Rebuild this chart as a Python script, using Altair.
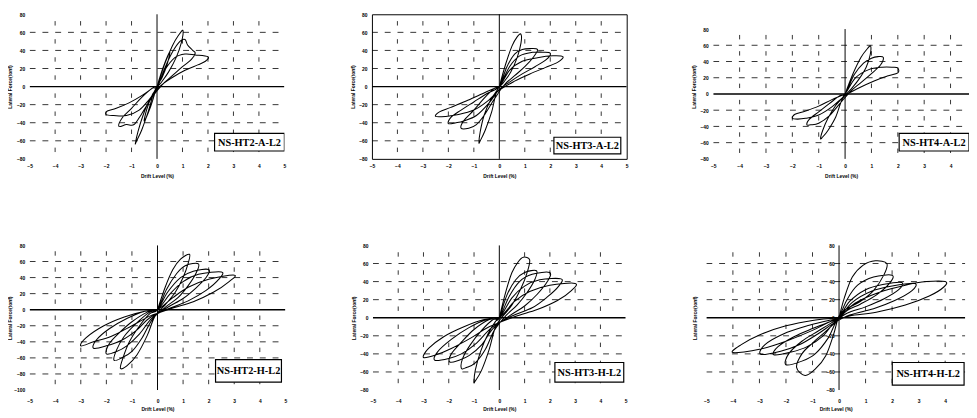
import altair as alt
import pandas as pd

# ---------------- tick values / labels ----------------
X_TICKS = [-5, -4, -3, -2, -1, 0, 1, 2, 3, 4, 5]
X_TICKS_CUT = [-5, -4, -3, -2, -1, 0, 1, 2, 3, 4]
Y_TICKS = [80, 60, 40, 20, 0, -20, -40, -60, -80]
Y_TICKS_LONG = [80, 60, 40, 20, 0, -20, -40, -60, -80, -100]
H_GRID = [60, 40, 20, -20, -40, -60]
H_GRID_LONG = [60, 40, 20, -20, -40, -60, -80]
V_GRID = [-4, -3, -2, -1, 1, 2, 3, 4]

LABELS = ["NS-HT2-A-L2", "NS-HT3-A-L2", "NS-HT4-A-L2",
          "NS-HT2-H-L2", "NS-HT3-H-L2", "NS-HT4-H-L2"]

# ---------------- hysteresis records (drift %, force tonf) ----------------
HT2_A = [(0, 0), (0.25, 22), (0.5, 38), (0.4, 25), (0.2, 10), (0, 0), (-0.25, -22), (-0.5, -38), (-0.4, -25), (-0.2, -10), (0, 0),
         (0.3, 25), (0.6, 45), (0.85, 57), (1.02, 62), (0.95, 48), (0.75, 32), (0.45, 16), (0.15, 4), (-0.1, -5),
         (-0.35, -28), (-0.6, -48), (-0.8, -60), (-0.85, -63), (-0.75, -50), (-0.55, -32), (-0.3, -15), (0, -2),
         (0.3, 20), (0.6, 38), (0.9, 50), (1.1, 52), (1.2, 46), (1.4, 40), (1.5, 37), (1.35, 30), (1.0, 22), (0.6, 12), (0.2, 2),
         (-0.2, -12), (-0.6, -30), (-0.9, -42), (-1.2, -42), (-1.5, -44), (-1.35, -34), (-1.0, -24), (-0.6, -12), (-0.2, -2), (0, 0),
         (0.3, 18), (0.7, 32), (1.1, 36), (1.5, 35), (2.0, 33), (1.9, 28), (1.6, 24), (1.1, 18), (0.6, 10), (0.1, 0),
         (-0.3, -14), (-0.7, -26), (-1.2, -32), (-1.7, -32), (-2.0, -31), (-1.95, -27), (-1.6, -24), (-1.1, -18), (-0.6, -10), (-0.1, 0)]

HT3_A = [(0, 0), (0.25, 25), (0.5, 45), (0.7, 55), (0.85, 58), (0.85, 48), (0.7, 32), (0.45, 16), (0.15, 4), (-0.1, -5),
         (-0.3, -28), (-0.55, -48), (-0.75, -60), (-0.8, -62), (-0.75, -50), (-0.6, -32), (-0.35, -15), (0, 0),
         (0.3, 22), (0.6, 36), (0.9, 41), (1.2, 42), (1.5, 41), (1.35, 33), (1.0, 22), (0.6, 12), (0.2, 2),
         (-0.2, -14), (-0.6, -32), (-0.9, -42), (-1.2, -46), (-1.5, -46), (-1.4, -38), (-1.0, -26), (-0.6, -13), (-0.2, -2), (0, 0),
         (0.4, 22), (0.8, 34), (1.3, 38), (1.7, 38), (2.0, 37), (1.85, 30), (1.4, 22), (0.9, 14), (0.4, 5), (0, -3),
         (-0.4, -18), (-0.9, -32), (-1.4, -38), (-1.7, -40), (-2.0, -41), (-1.9, -34), (-1.5, -26), (-1.0, -17), (-0.5, -8), (0, 0),
         (0.4, 18), (0.9, 28), (1.5, 32), (2.1, 34), (2.5, 33), (2.3, 27), (1.8, 21), (1.2, 14), (0.6, 6), (0, -4),
         (-0.5, -17), (-1.0, -26), (-1.6, -31), (-2.1, -33), (-2.5, -33), (-2.35, -28), (-1.9, -23), (-1.3, -16), (-0.6, -7), (0, 0)]

HT4_A = [(0, 0), (0.3, 25), (0.6, 45), (0.85, 56), (0.97, 59), (0.95, 48), (0.8, 33), (0.5, 17), (0.2, 5), (-0.1, -6),
         (-0.35, -28), (-0.65, -45), (-0.85, -53), (-0.93, -55), (-0.85, -45), (-0.65, -30), (-0.35, -14), (0, 0),
         (0.35, 24), (0.7, 38), (1.0, 44), (1.25, 46), (1.45, 45), (1.35, 36), (1.0, 25), (0.6, 14), (0.2, 3),
         (-0.2, -12), (-0.6, -27), (-1.0, -36), (-1.3, -38), (-1.45, -38), (-1.35, -31), (-1.0, -22), (-0.6, -12), (-0.2, -2), (0, 0),
         (0.4, 20), (0.9, 30), (1.4, 33), (1.8, 33), (2.0, 32), (2.0, 26), (1.6, 22), (1.1, 16), (0.5, 7), (0, -2),
         (-0.5, -16), (-1.0, -26), (-1.5, -30), (-1.8, -31), (-2.0, -30), (-1.9, -25), (-1.5, -21), (-1.0, -15), (-0.5, -7), (0, 0)]

HT2_H = [(0, 0), (0.3, 28), (0.6, 50), (0.9, 63), (1.25, 69), (1.2, 58), (1.0, 40), (0.7, 22), (0.3, 6), (-0.1, -8),
         (-0.4, -32), (-0.8, -56), (-1.2, -70), (-1.45, -73), (-1.35, -60), (-1.1, -40), (-0.7, -20), (-0.3, -5), (0, 0),
         (0.35, 25), (0.75, 45), (1.1, 55), (1.6, 57), (1.5, 45), (1.2, 30), (0.8, 15), (0.3, 3),
         (-0.2, -12), (-0.6, -35), (-1.0, -52), (-1.4, -60), (-1.7, -63), (-1.6, -50), (-1.3, -33), (-0.8, -16), (-0.3, -3), (0, 0),
         (0.4, 22), (0.9, 40), (1.4, 48), (2.0, 50), (1.9, 40), (1.5, 27), (1.0, 14), (0.4, 3),
         (-0.2, -10), (-0.7, -30), (-1.2, -45), (-1.6, -52), (-2.0, -55), (-1.9, -43), (-1.5, -29), (-1.0, -15), (-0.4, -3), (0, 0),
         (0.5, 20), (1.0, 35), (1.6, 44), (2.5, 47), (2.4, 38), (1.9, 24), (1.2, 11), (0.5, 2),
         (-0.3, -10), (-0.8, -25), (-1.4, -38), (-2.0, -45), (-2.5, -48), (-2.4, -38), (-1.9, -24), (-1.2, -11), (-0.5, -2), (0, 0),
         (0.6, 15), (1.2, 28), (2.0, 38), (3.0, 43), (2.8, 35), (2.2, 22), (1.4, 10), (0.6, 2),
         (-0.3, -8), (-1.0, -20), (-1.8, -33), (-2.5, -40), (-3.0, -45), (-2.8, -35), (-2.1, -20), (-1.3, -9), (-0.5, -2), (0, 0)]

HT3_H = [(0, 0), (0.25, 28), (0.5, 50), (0.75, 62), (0.95, 67), (1.2, 64), (1.1, 50), (0.85, 32), (0.5, 14), (0.15, 2),
         (-0.15, -10), (-0.4, -35), (-0.7, -58), (-0.95, -70), (-1.0, -71), (-0.95, -58), (-0.75, -38), (-0.45, -18), (-0.15, -4), (0, 0),
         (0.3, 25), (0.65, 42), (1.0, 50), (1.47, 52), (1.4, 42), (1.1, 28), (0.7, 14), (0.25, 2),
         (-0.2, -14), (-0.55, -35), (-0.95, -50), (-1.3, -55), (-1.5, -56), (-1.45, -45), (-1.15, -30), (-0.7, -14), (-0.25, -2), (0, 0),
         (0.4, 24), (0.8, 40), (1.3, 48), (1.99, 50), (1.9, 40), (1.5, 26), (1.0, 13), (0.4, 2),
         (-0.25, -12), (-0.7, -30), (-1.2, -42), (-1.6, -47), (-1.96, -49), (-1.9, -40), (-1.5, -27), (-1.0, -13), (-0.4, -2), (0, 0),
         (0.5, 22), (1.0, 35), (1.6, 42), (2.44, 43), (2.35, 35), (1.9, 23), (1.3, 11), (0.5, 2),
         (-0.3, -11), (-0.9, -28), (-1.5, -40), (-2.0, -45), (-2.55, -47), (-2.45, -38), (-1.9, -24), (-1.2, -11), (-0.5, -2), (0, 0),
         (0.6, 18), (1.2, 29), (2.0, 36), (3.0, 38), (2.85, 30), (2.3, 19), (1.5, 9), (0.6, 1),
         (-0.4, -10), (-1.1, -22), (-1.9, -34), (-2.5, -41), (-3.0, -44), (-2.8, -34), (-2.2, -21), (-1.4, -10), (-0.6, -2), (0, 0)]

HT4_H = [(0, 0), (0.2, 22), (0.5, 45), (0.9, 58), (1.37, 63), (1.8, 60), (1.7, 48), (1.3, 30), (0.8, 18), (0.3, 10), (0, 2),
         (-0.2, -18), (-0.5, -42), (-0.9, -57), (-1.28, -64), (-1.6, -55), (-1.4, -40), (-1.0, -28), (-0.5, -15), (-0.1, -4), (0, 0),
         (0.3, 20), (0.7, 36), (1.3, 45), (2.0, 47), (1.9, 38), (1.4, 25), (0.8, 15), (0.3, 8), (-0.1, -4),
         (-0.4, -22), (-0.9, -40), (-1.4, -48), (-2.0, -52), (-1.9, -40), (-1.4, -26), (-0.8, -15), (-0.3, -6), (0, 0),
         (0.4, 18), (1.0, 31), (1.7, 37), (2.36, 39), (2.25, 31), (1.7, 21), (1.0, 12), (0.3, 5), (-0.2, -6),
         (-0.6, -20), (-1.2, -32), (-1.8, -38), (-2.46, -41), (-2.3, -32), (-1.7, -21), (-1.0, -12), (-0.3, -4), (0, 0),
         (0.5, 17), (1.2, 29), (2.0, 35), (2.85, 38), (2.75, 30), (2.1, 19), (1.3, 10), (0.4, 3), (-0.2, -6),
         (-0.8, -18), (-1.5, -30), (-2.2, -37), (-2.95, -40.5), (-2.8, -30), (-2.1, -18), (-1.2, -9), (-0.4, -3), (0, 0),
         (0.6, 16), (1.5, 28), (2.5, 36), (3.3, 40), (4.0, 40), (3.95, 34), (3.4, 24), (2.5, 14), (1.4, 6), (0.4, 2), (-0.3, -4),
         (-1.0, -14), (-2.0, -26), (-3.0, -35), (-4.0, -38.6), (-3.7, -30), (-3.0, -19), (-2.0, -9), (-1.0, -3), (0, 0)]

FONT = "Liberation Sans"
H = 147


def panel(pts, label, ydom, yticks, hgrid, xmax, xticks, width, box,
          framed=False, yoffset=None, ytitle_x=None, xlabpad=5, xtitlepad=5):
    gmin, gmax = yticks[-1], yticks[0]
    xs = alt.Scale(domain=[X_TICKS[0], xmax], nice=False, zero=False)
    ys = alt.Scale(domain=ydom, nice=False, zero=False)
    px20 = H * 20.0 / (ydom[1] - ydom[0])

    yaxis_kw = dict(values=yticks, title="Lateral Force(tonf)", grid=False, ticks=False, domain=False,
                    labelFontSize=5, titleFontSize=5, labelFontWeight="bold", titleFontWeight="bold",
                    labelFont=FONT, titleFont=FONT, labelPadding=5, minExtent=11, maxExtent=11,
                    titlePadding=6, labelOverlap=False, format="d", labelColor="black", titleColor="black")
    if yoffset is not None:
        yaxis_kw["offset"] = yoffset
        yaxis_kw["titleX"] = ytitle_x
    yaxis = alt.Axis(**yaxis_kw)
    xaxis = alt.Axis(values=xticks, title="Drift Level (%)", grid=False, ticks=False, domain=False,
                     labelFontSize=5, titleFontSize=5, labelFontWeight="bold", titleFontWeight="bold",
                     labelFont=FONT, titleFont=FONT, labelPadding=xlabpad, titlePadding=xtitlepad,
                     labelOverlap=False, labelFlush=False, format="d", labelColor="black", titleColor="black")

    hg = pd.DataFrame({"y": hgrid, "x1": X_TICKS[0], "x2": X_TICKS[-1]})
    vg = pd.DataFrame({"x": V_GRID, "y1": gmin, "y2": gmax})
    h0 = pd.DataFrame({"y": [0], "x1": [X_TICKS[0]], "x2": [X_TICKS[-1]]})
    v0 = pd.DataFrame({"x": [0], "y1": [gmin], "y2": [gmax]})
    df = pd.DataFrame(pts, columns=["drift", "force"])
    df["i"] = range(len(df))
    lab = pd.DataFrame({"name": [label]})

    hgrid_l = alt.Chart(hg).mark_rule(color="black", strokeWidth=0.8, strokeDash=[6, 7], clip=True).encode(
        y=alt.Y("y:Q", scale=ys, axis=yaxis), x=alt.X("x1:Q", scale=xs, axis=xaxis), x2="x2:Q")
    vgrid_l = alt.Chart(vg).mark_rule(color="black", strokeWidth=0.8, strokeDash=[4.5, px20 - 4.5],
                                      strokeDashOffset=px20 / 2 + 2.25).encode(
        x=alt.X("x:Q", scale=xs, axis=xaxis), y=alt.Y("y1:Q", scale=ys, axis=yaxis), y2="y2:Q")
    h0_l = alt.Chart(h0).mark_rule(color="black", strokeWidth=1.4, clip=True).encode(
        y=alt.Y("y:Q", scale=ys, axis=yaxis), x=alt.X("x1:Q", scale=xs, axis=xaxis), x2="x2:Q")
    v0_l = alt.Chart(v0).mark_rule(color="black", strokeWidth=1.0).encode(
        x=alt.X("x:Q", scale=xs, axis=xaxis), y=alt.Y("y1:Q", scale=ys, axis=yaxis), y2="y2:Q")
    loops = alt.Chart(df).mark_line(color="black", strokeWidth=1.05, interpolate="cardinal", clip=True).encode(
        x=alt.X("drift:Q", scale=xs, axis=xaxis),
        y=alt.Y("force:Q", scale=ys, axis=yaxis),
        order="i:Q")
    bx1, bx2, by1, by2 = box
    rect = alt.Chart(lab).mark_rect(fill="white", stroke="black", strokeWidth=1.2, clip=True).encode(
        x=alt.value(bx1), x2=alt.value(bx2), y=alt.value(by1), y2=alt.value(by2))
    txt = alt.Chart(lab).mark_text(font="Liberation Serif", fontSize=10.5, fontWeight="bold",
                                   color="black", clip=True).encode(
        x=alt.value((bx1 + bx2) / 2), y=alt.value((by1 + by2) / 2 + 0.5), text="name:N")

    ch = alt.layer(hgrid_l, vgrid_l, h0_l, v0_l, loops, rect, txt).properties(width=width, height=H)
    if framed:
        ch = ch.properties(view=alt.ViewBackground(stroke="black", strokeWidth=1))
    return ch


p1 = panel(HT2_A, LABELS[0], [-80, 80], Y_TICKS, H_GRID, 5, X_TICKS, 259, (188, 259, 121, 139))
p2 = panel(HT3_A, LABELS[1], [-80, 80], Y_TICKS, H_GRID, 5, X_TICKS, 259, (185, 253, 125, 142), framed=True)
p3 = panel(HT4_A, LABELS[2], [-80, 98.2], Y_TICKS, H_GRID, 4.7, X_TICKS_CUT, 260, (189, 260, 121, 139))
p4 = panel(HT2_H, LABELS[3], [-100, 80], Y_TICKS_LONG, H_GRID_LONG, 5, X_TICKS, 260, (189, 256, 116, 139),
           xlabpad=8.5, xtitlepad=3)
p5 = panel(HT3_H, LABELS[4], [-80, 80], Y_TICKS, H_GRID, 5, X_TICKS, 257, (185, 255, 119, 139),
           xlabpad=8.5, xtitlepad=3)
p6 = panel(HT4_H, LABELS[5], [-80, 80], Y_TICKS, H_GRID, 4.75, X_TICKS_CUT, 263, (189, 262, 119, 142),
           yoffset=-135, ytitle_x=-144.5, xlabpad=8.5, xtitlepad=3)

row1 = alt.hconcat(p1, p2, p3, spacing=64)
row2 = alt.hconcat(p4, p5, p6, spacing=65)
chart = alt.vconcat(row1, row2, spacing=65).properties(
    padding={"left": 0, "top": 0, "right": 0, "bottom": 0}
).configure_view(stroke=None)

chart.save("out.html", embed_options={"renderer": "svg", "actions": False})
